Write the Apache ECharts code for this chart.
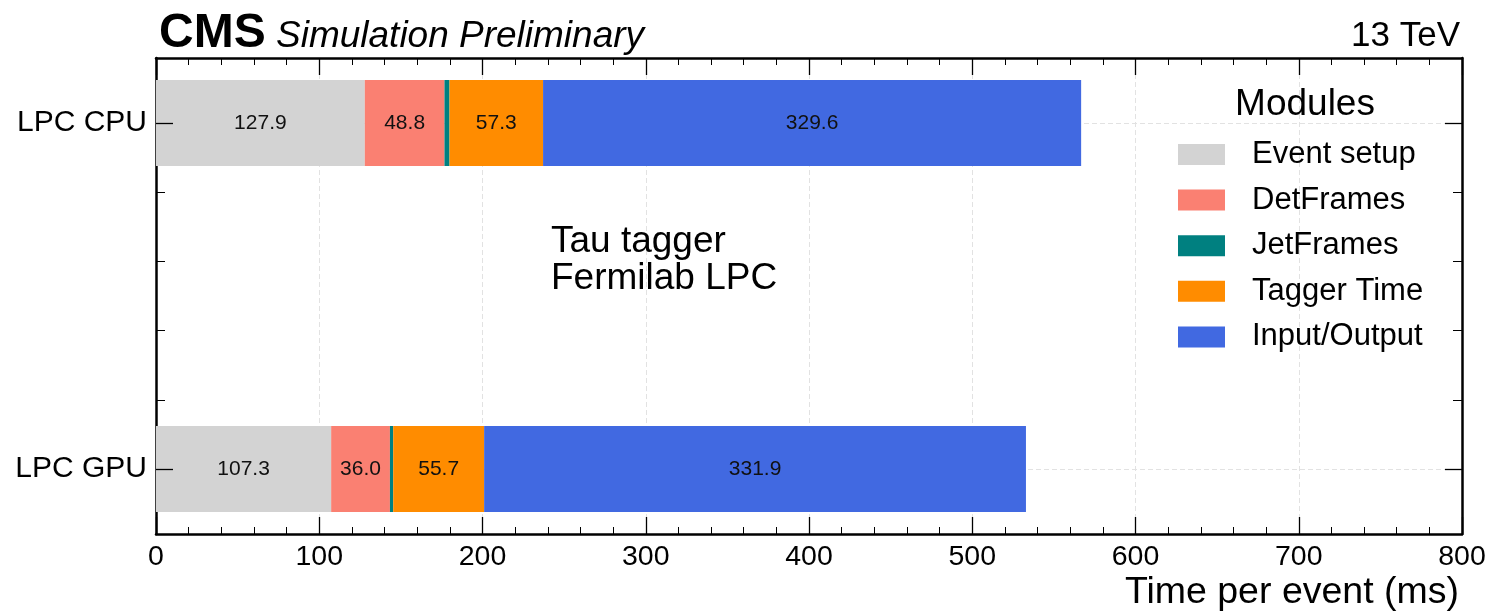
<!DOCTYPE html>
<html>
<head>
<meta charset="utf-8">
<script src="https://cdn.jsdelivr.net/npm/echarts@6/dist/echarts.min.js"></script>
<style>
  html, body { margin: 0; padding: 0; background: #fff; }
  #chart { width: 1491px; height: 612px; }
</style>
</head>
<body>
<div id="chart"></div>
<script>
// Per-event processing time (ms), split by module, for the two LPC setups
const categories = ['LPC GPU', 'LPC CPU'];
const modules = ['Event setup', 'DetFrames', 'JetFrames', 'Tagger Time', 'Input/Output'];
const eventSetup = [107.3, 127.9];
const detFrames = [36.0, 48.8];
const jetFrames = [2.0, 3.1];
const taggerTime = [55.7, 57.3];
const inputOutput = [331.9, 329.6];
const moduleColors = ['#d3d3d3', '#fa8072', '#008080', '#ff8c00', '#4169e1'];
const xMin = 0, xMax = 800, xStep = 100;
const minorYTicks = [0.2, 0.4, 0.6, 0.8];

const FONT = '"Liberation Sans", Arial, Helvetica, sans-serif';

// frame y-range: categories sit at 0 and 1, with padding above/below
const yPad = 65 / 346;

const seriesValues = [eventSetup, detFrames, jetFrames, taggerTime, inputOutput];

const series = modules.map((name, i) => ({
  name: name,
  type: 'bar',
  stack: 'total',
  xAxisIndex: 0,
  yAxisIndex: 0,
  barWidth: 86,
  z: 4,
  data: seriesValues[i],
  itemStyle: { color: moduleColors[i] },
  label: {
    show: name !== 'JetFrames',
    position: 'inside',
    formatter: p => p.value.toFixed(1),
    fontFamily: FONT,
    fontSize: 21,
    color: '#111'
  },
  emphasis: { disabled: true }
}));

const gridLineStyle = { color: '#e2e2e2', type: [5, 3], width: 1 };
const frameLine = { show: true, onZero: false, lineStyle: { color: '#000', width: 2.5 } };
const majorTick = { show: true, inside: true, length: 17, lineStyle: { color: '#000', width: 1.3 } };
const minorTickY = { show: true, inside: true, length: 9, customValues: minorYTicks, lineStyle: { color: '#000', width: 1 } };

const option = {
  animation: false,
  backgroundColor: '#fff',
  textStyle: { fontFamily: FONT },
  grid: [
    // bar area: category centres lie on the top and bottom edges
    { left: 156, right: 29, top: 123, bottom: 143, containLabel: false },
    // full frame
    { left: 156, right: 29, top: 58, bottom: 78, containLabel: false }
  ],
  xAxis: [
    { gridIndex: 0, type: 'value', min: xMin, max: xMax, show: false },
    {
      gridIndex: 1, type: 'value', min: xMin, max: xMax, interval: xStep,
      position: 'bottom', z: 3,
      axisLine: frameLine,
      axisTick: majorTick,
      minorTick: { show: true, splitNumber: 5, length: 7, lineStyle: { color: '#000', width: 1 } },
      axisLabel: { show: true, color: '#000', fontSize: 28.5, fontFamily: FONT, margin: 9 },
      splitLine: { show: true, lineStyle: gridLineStyle }
    },
    {
      gridIndex: 1, type: 'value', min: xMin, max: xMax, interval: xStep,
      position: 'top', z: 3,
      axisLine: frameLine,
      axisTick: majorTick,
      minorTick: { show: true, splitNumber: 5, length: 7, lineStyle: { color: '#000', width: 1 } },
      axisLabel: { show: false },
      splitLine: { show: false }
    }
  ],
  yAxis: [
    {
      gridIndex: 0, type: 'category', data: categories, boundaryGap: false,
      position: 'left', z: 6,
      axisLine: { show: false, onZero: false },
      axisTick: majorTick,
      axisLabel: { show: true, color: '#000', fontSize: 30, fontFamily: FONT, margin: 9 },
      splitLine: { show: false }
    },
    {
      gridIndex: 0, type: 'category', data: categories, boundaryGap: false,
      position: 'right', z: 6,
      axisLine: { show: false, onZero: false },
      axisTick: majorTick,
      axisLabel: { show: false },
      splitLine: { show: false }
    },
    {
      // horizontal dashed grid lines at the category centres
      gridIndex: 0, type: 'category', data: categories, boundaryGap: false,
      position: 'left', z: 3,
      axisLine: { show: false, onZero: false },
      axisTick: { show: false },
      axisLabel: { show: false },
      splitLine: { show: true, lineStyle: gridLineStyle }
    },
    {
      gridIndex: 1, type: 'value', min: -yPad, max: 1 + yPad,
      position: 'left', z: 3,
      axisLine: frameLine,
      axisTick: minorTickY,
      axisLabel: { show: false },
      splitLine: { show: false }
    },
    {
      gridIndex: 1, type: 'value', min: -yPad, max: 1 + yPad,
      position: 'right', z: 3,
      axisLine: frameLine,
      axisTick: minorTickY,
      axisLabel: { show: false },
      splitLine: { show: false }
    }
  ],
  legend: {
    data: modules,
    orient: 'vertical',
    left: 1178,
    top: 139,
    padding: 0,
    icon: 'rect',
    itemWidth: 47,
    itemHeight: 21,
    itemGap: 14.6,
    selectedMode: false,
    textStyle: { fontFamily: FONT, fontSize: 31, lineHeight: 30, color: '#000', padding: [0, 0, 0, 22] }
  },
  graphic: [
    { type: 'text', z: 10, style: { x: 159, y: 34, text: 'CMS', font: 'bold 48px ' + FONT, fill: '#000', verticalAlign: 'middle' } },
    { type: 'text', z: 10, style: { x: 276, y: 37, text: 'Simulation Preliminary', font: 'italic 37px ' + FONT, fill: '#000', verticalAlign: 'middle' } },
    { type: 'text', z: 10, style: { x: 1460, y: 36, text: '13 TeV', font: '35px ' + FONT, fill: '#000', align: 'right', verticalAlign: 'middle' } },
    { type: 'text', z: 10, style: { x: 551, y: 242, text: 'Tau tagger', font: '37px ' + FONT, fill: '#000', verticalAlign: 'middle' } },
    { type: 'text', z: 10, style: { x: 551, y: 279, text: 'Fermilab LPC', font: '37px ' + FONT, fill: '#000', verticalAlign: 'middle' } },
    { type: 'text', z: 10, style: { x: 1305, y: 105, text: 'Modules', font: '37px ' + FONT, fill: '#000', align: 'center', verticalAlign: 'middle' } },
    { type: 'text', z: 10, style: { x: 1459, y: 593, text: 'Time per event (ms)', font: '37.5px ' + FONT, fill: '#000', align: 'right', verticalAlign: 'middle' } }
  ],
  series: series
};

const chart = echarts.init(document.getElementById('chart'), null, { renderer: 'canvas' });
chart.setOption(option);
</script>
</body>
</html>
